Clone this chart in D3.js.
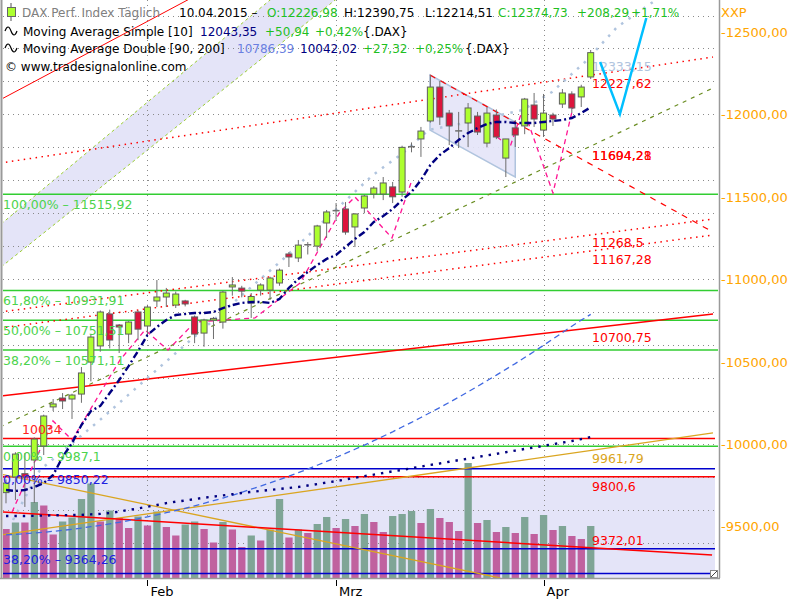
<!DOCTYPE html>
<html><head><meta charset="utf-8">
<script src="https://cdn.jsdelivr.net/npm/d3@7"></script>
<style>
body{margin:0;background:#fff}
svg{display:block}
text{font-family:"DejaVu Sans",Verdana,sans-serif}
</style>
</head><body>
<svg id="c" width="800" height="600"></svg>
<script>
// ---------------- DATA ----------------
const dates = ["12.01","13.01","14.01","15.01","16.01","19.01","20.01","21.01","22.01","23.01","26.01","27.01","28.01","29.01","30.01",
"02.02","03.02","04.02","05.02","06.02","09.02","10.02","11.02","12.02","13.02","16.02","17.02","18.02","19.02","20.02","23.02","24.02","25.02","26.02","27.02",
"02.03","03.03","04.03","05.03","06.03","09.03","10.03","11.03","12.03","13.03","16.03","17.03","18.03","19.03","20.03","23.03","24.03","25.03","26.03","27.03","30.03","31.03",
"01.04","02.04","07.04","08.04","09.04","10.04"];
const openV = [9705,9800,9820,9903,9988,10225,10279,10273,10303,10497,10595,10789,10722,10667,10801,10716,10868,10892,10843,10868,10771,10673,10752,10740,10953,10946,10855,10934,10934,10977,11153,11129,11207,11201,11341,11414,11426,11317,11432,11517,11517,11560,11529,11802,11851,11960,12166,12008,11899,11948,11990,11826,11996,11735,11918,11930,12057,11905,11996,12063,12124,12106,12226.98];
const highV = [9785,9950,9945,10040,10178,10273,10309,10305,10467,10665,10810,10815,10728,10745,10810,10845,10995,10947,10925,10875,10780,10760,10771,10930,11013,10960,10916,10975,11015,11065,11165,11238,11225,11330,11420,11462,11468,11400,11512,11565,11620,11590,11810,11830,11924,12239,12203,12027,12015,12069,12015,12045,12030,11851,11966,12100,12130,12124,12010,12154,12140,12180,12390.75];
const lowV = [9640,9660,9618,9642,9933,10200,10212,10152,10250,10380,10560,10580,10552,10612,10630,10660,10831,10831,10825,10835,10612,10590,10637,10700,10900,10890,10765,10900,10874,10960,11074,11104,11150,11170,11250,11360,11270,11195,11400,11490,11480,11462,11500,11770,11742,11950,11936,11814,11796,11802,11875,11800,11850,11620,11802,11880,11924,11863,11930,12039,12008,12045,12214.51];
const closeV = [9763,9939,9800,10030,10170,10243,10261,10297,10431,10649,10801,10631,10710,10740,10697,10831,10892,10916,10910,10850,10667,10752,10762,10922,10965,10928,10895,10965,11007,11055,11135,11207,11209,11323,11408,11416,11286,11396,11505,11553,11584,11500,11800,11804,11899,12166,11984,11930,11900,12039,11893,12008,11863,11851,11875,12093,11972,12008,11972,12130,12039,12166,12374.73];
const volumeV = [98,111,111,152,145,87,113,121,158,189,113,135,120,100,123,105,133,102,85,107,113,98,71,112,97,62,85,75,97,158,81,97,90,108,122,100,118,104,128,112,92,124,128,134,110,138,120,112,94,230,110,116,92,102,90,122,88,126,96,104,84,78,104];
const ma10 = [9721,9715,9721,9739,9763,9812,9921,10006,10115,10200,10231,10309,10388,10473,10564,10661,10710,10752,10783,10789,10795,10795,10801,10825,10843,10856,10862,10862,10856,10880,10947,11001,11044,11086,11123,11147,11195,11244,11286,11347,11383,11426,11481,11529,11602,11693,11754,11796,11845,11887,11917,11942,11954,11954,11948,11948,11948,11954,11960,11966,11978,12008,12043.35];
const ma90 = [9449,9452,9455,9460,9464,9470,9476,9482,9490,9498,9506,9515,9525,9535,9546,9558,9570,9583,9596,9610,9625,9640,9656,9672,9689,9707,9726,9744,9764,9784,9805,9826,9848,9871,9894,9918,9943,9968,9993,10020,10047,10074,10103,10131,10161,10191,10221,10252,10284,10317,10350,10384,10418,10453,10488,10525,10561,10599,10637,10676,10715,10752,10786.39];
const ma200 = [9563,9563,9563,9564,9566,9567,9568,9569,9570,9573,9576,9581,9590,9600,9609,9619,9630,9641,9650,9657,9666,9674,9681,9688,9695,9703,9709,9715,9721,9727,9733,9739,9748,9757,9766,9775,9785,9795,9805,9814,9824,9834,9843,9853,9863,9873,9882,9892,9902,9911,9921,9931,9940,9950,9960,9970,9979,9989,9999,10008,10018,10030,10042.02];

const yTickValues = [9500,10000,10500,11000,11500,12000,12500];
const gridValues = [9400,9600,9800,10000,10200,10400,10600,10800,11000,11200,11400,11600,11800,12000,12200,12400,12600];
const monthNames = ["Feb","Mrz","Apr"];
const monthFirstDates = ["02.02","02.03","01.04"];

const fibGreenValues = [11515.92,10931.91,10751.51,10571.11,9987.1];
const fibGreenLabels = ["100,00% – 11515,92","61,80% – 10931,91","50,00% – 10751,51","38,20% – 10571,11","0,00% – 9987,1"];
const fibBlueValues = [9850.22,9364.26,9214.11];
const fibBlueLabels = ["0,00% – 9850,22","38,20% – 9364,26",""];
const redLevelValues = [10034,9800.6];
const redLevelLabels = ["10034","9800,6"];

// trend lines: [barIndex, value] pairs
const channelUpper = [[-1,11312],[40,13266]];
const channelLower = [[-1,11052],[40,12927]];
const redSolidTop = [[-1,12077],[20,12717]];
const redDottedC = [[-0.64,11705],[74.97,12348]];
const redDottedA = [[-0.64,10801],[74.97,11365]];
const redDottedB = [[-0.64,10704],[74.97,11268]];
const redSolidMid = [[-0.64,10291],[74.97,10789]];
const redDashedD = [[44.96,12239],[74.97,11286]];
const oliveDashed = [[-0.64,10103],[75.19,12166]];
const orangeRise = [[-0.64,9448],[74.97,10067]];
const orangeFall = [[-0.64,9818],[52.4,9187]];
const redLow = [[-0.32,9587],[74.87,9326]];
const flagPoly = [[44.96,12239],[54,11954],[54,11620],[44.96,11905]];
const projection = [[63,12318],[65.1,12002],[67.9,12585]];
const steelCurve = [[0.74,9539],[3.6,9842],[6.8,9994],[9.97,10146],[15.6,10431],[21.4,10722],[27.1,11007],[29.3,11117],[38.9,11632],[42.1,11766],[44.8,11905],[49.2,11954],[54.8,12027],[57.9,12136],[61.4,12318],[64.8,12530],[68.6,12682]];
const pinkZig1 = [[0.64,9587],[4.98,10140],[7.0,10024],[12.09,10510],[14.74,10692],[17.18,10570],[20.04,10740],[26.4,10765],[31.18,10977],[35.42,11408],[37.0,11499],[40.93,11250],[43.05,11602]];
const pinkZig2 = [[52.07,11863],[53.45,11802],[54.83,12039],[58.0,11523],[60.13,12045]];

const rightLabels = [
  {t:"12333,15", v:12294, c:"#b0c4de"},
  {t:"12227,62", v:12192, c:"#ff0000"},
  {t:"11604,28", v:11754, c:"#ff0000"},
  {t:"11694,21", v:11754, c:"#ff0000"},
  {t:"11268,5", v:11225, c:"#ff0000"},
  {t:"11167,28", v:11125, c:"#ff0000"},
  {t:"10700,75", v:10649, c:"#ff0000"},
  {t:"9961,79", v:9915, c:"#daa520"},
  {t:"9372,01", v:9417, c:"#ff0000"}
];

// ---------------- CHART ----------------
const svg = d3.select("#c");
const L = 3, R = 718, B = 578;
const x = d3.scaleLinear().domain([-0.318, 75.5]).range([L, R]);
const y = d3.scaleLinear().domain([10000, 12500]).range([444, 32]);
const vy = d3.scaleLinear().domain([0, 250]).range([B, B - 125]);
const idx = d3.range(dates.length);
const line = d3.line().x(d => x(d[0])).y(d => y(d[1]));
const serLine = arr => d3.line().x((d, i) => x(i)).y(d => y(d))(arr);

svg.append("rect").attr("width", 800).attr("height", 600).attr("fill", "#fff");
svg.append("defs").append("clipPath").attr("id", "plot")
  .append("rect").attr("x", L).attr("y", 0).attr("width", R - L).attr("height", B);
const g = svg.append("g").attr("clip-path", "url(#plot)");

// regression channel
g.append("path").attr("d", line([channelUpper[0], channelUpper[1], channelLower[1], channelLower[0]]) + "Z")
  .attr("fill", "#e4e4f8");
[channelUpper, channelLower].forEach(p => g.append("path").attr("d", line(p))
  .attr("stroke", "#9acd32").attr("stroke-width", 1).attr("stroke-dasharray", "3,3").attr("fill", "none"));

// lower shaded zone
g.append("rect").attr("x", L).attr("y", y(9800.6)).attr("width", 715 - L).attr("height", B - y(9800.6)).attr("fill", "#e4e4f8");

// grid
gridValues.forEach(v => g.append("line").attr("x1", L).attr("x2", R).attr("y1", Math.round(y(v)) + 0.5).attr("y2", Math.round(y(v)) + 0.5)
  .attr("stroke", "#8a8a8a").attr("stroke-dasharray", "1,4"));
const monthIdx = monthFirstDates.map(d => dates.indexOf(d));
monthIdx.forEach(i => g.append("line").attr("x1", Math.round(x(i)) + 0.5).attr("x2", Math.round(x(i)) + 0.5).attr("y1", 0).attr("y2", B)
  .attr("stroke", "#8a8a8a").attr("stroke-dasharray", "1,4"));

// volume
g.selectAll(".vol").data(volumeV).join("rect")
  .attr("x", (d, i) => x(i) - 3.6).attr("width", 7.3)
  .attr("y", d => vy(d)).attr("height", d => B - vy(d))
  .attr("fill", (d, i) => (i > 0 && d > volumeV[i - 1]) ? "#7fa596" : "#c0619f");

// horizontal levels
fibGreenValues.forEach(v => g.append("line").attr("x1", L).attr("x2", R).attr("y1", y(v)).attr("y2", y(v)).attr("stroke", "#32cd32").attr("stroke-width", 1.5));
redLevelValues.forEach(v => g.append("line").attr("x1", L).attr("x2", 715).attr("y1", y(v)).attr("y2", y(v)).attr("stroke", "#ff0000").attr("stroke-width", 1.5));
fibBlueValues.forEach(v => g.append("line").attr("x1", L).attr("x2", 715).attr("y1", y(v)).attr("y2", y(v)).attr("stroke", "#0000cd").attr("stroke-width", 1.5));

// flag
g.append("path").attr("d", line(flagPoly) + "Z").attr("fill", "#e4e4f8").attr("fill-opacity", 0.9)
  .attr("stroke", "#b0c4de").attr("stroke-width", 1.5);

function seg(p, col, w, dash) {
  const s = g.append("path").attr("d", line(p)).attr("fill", "none").attr("stroke", col).attr("stroke-width", w);
  if (dash) s.attr("stroke-dasharray", dash);
  return s;
}
seg(redSolidTop, "#ff0000", 1);
seg(redDottedC, "#ff0000", 1.5, "1.5,4.5");
seg(redDottedA, "#ff0000", 1.5, "1.5,4.5");
seg(redDottedB, "#ff0000", 1.5, "1.5,4.5");
seg(redSolidMid, "#ff0000", 1.5);
seg(redDashedD, "#ff0000", 1.2, "6,6");
seg(oliveDashed, "#6b8e23", 1.2, "4,5");
seg(orangeRise, "#daa520", 1.3);
seg(orangeFall, "#daa520", 1.3);
seg(redLow, "#ff0000", 1.5);

// moving averages (long)
g.append("path").attr("d", serLine(ma90)).attr("fill", "none").attr("stroke", "#4169e1").attr("stroke-width", 1.3).attr("stroke-dasharray", "6,4");
g.append("path").attr("d", serLine(ma200)).attr("fill", "none").attr("stroke", "#000080").attr("stroke-width", 2.4).attr("stroke-dasharray", "2.4,6");
seg(steelCurve, "#b0c4de", 2.5, "2.5,6.5");
seg(pinkZig1, "#ff1493", 1.3, "5,4");
seg(pinkZig2, "#ff1493", 1.3, "5,4");

// label behind last candle
const lab = g.append("g").style("font-size", "12.5px");
lab.append("text").attr("x", 592).attr("y", y(rightLabels[0].v) + 5).attr("fill", rightLabels[0].c).text(rightLabels[0].t);

// candles
const cg = g.append("g");
idx.forEach(i => {
  const o = openV[i], c = closeV[i];
  cg.append("line").attr("x1", x(i)).attr("x2", x(i)).attr("y1", y(highV[i])).attr("y2", y(lowV[i])).attr("stroke", "#6e6e6e").attr("stroke-width", 1);
  if (Math.abs(o - c) <= 3) {
    cg.append("line").attr("x1", x(i) - 3.5).attr("x2", x(i) + 3.5).attr("y1", y(c)).attr("y2", y(c)).attr("stroke", "#6e6e6e").attr("stroke-width", 1.5);
  } else {
    cg.append("rect").attr("x", x(i) - 3).attr("width", 6)
      .attr("y", y(Math.max(o, c))).attr("height", Math.max(1, Math.abs(y(o) - y(c))))
      .attr("fill", c > o ? "#adff2f" : "#dc143c").attr("stroke", "#5f5f5f").attr("stroke-width", 1);
  }
});

// MA10
g.append("path").attr("d", serLine(ma10)).attr("fill", "none").attr("stroke", "#000080").attr("stroke-width", 2.4).attr("stroke-dasharray", "7,3,2,3");

// projection
seg(projection, "#00bfff", 2.5);

// right-side labels
rightLabels.slice(1).forEach(l => lab.append("text").attr("x", 592).attr("y", y(l.v) + 5).attr("fill", l.c).text(l.t));

// left labels
const ll = svg.append("g").style("font-size", "12.5px");
fibGreenValues.forEach((v, k) => ll.append("text").attr("x", 3).attr("y", y(v) + 15).attr("fill", "#4cd34c").text(fibGreenLabels[k]));
fibBlueValues.forEach((v, k) => ll.append("text").attr("x", 3).attr("y", y(v) + 15).attr("fill", "#2020e0").text(fibBlueLabels[k]));
ll.append("text").attr("x", 22).attr("y", y(redLevelValues[0]) - 4).attr("fill", "#ff2020").text(redLevelLabels[0]);
lab.append("text").attr("x", 592).attr("y", y(redLevelValues[1]) + 14).attr("fill", "#ff0000").text(redLevelLabels[1]);

// resize handle
svg.append("rect").attr("x", 710.5).attr("y", 570.5).attr("width", 7).attr("height", 7).attr("fill", "#fff").attr("stroke", "#888");
svg.append("line").attr("x1", 711).attr("y1", 577).attr("x2", 717).attr("y2", 571).attr("stroke", "#444");

// frame / axes
svg.append("line").attr("x1", 1.5).attr("x2", 1.5).attr("y1", 0).attr("y2", B).attr("stroke", "#9a9a9a").attr("stroke-width", 2);
svg.append("line").attr("x1", 719.5).attr("x2", 719.5).attr("y1", 0).attr("y2", B).attr("stroke", "#9a9a9a").attr("stroke-width", 1.5);
svg.append("line").attr("x1", 0).attr("x2", 720).attr("y1", B + 0.5).attr("y2", B + 0.5).attr("stroke", "#9a9a9a").attr("stroke-width", 1.5);

const fmt = d3.formatLocale({decimal: ",", thousands: "", grouping: [3], currency: ["", ""]}).format(".2f");
const ax = svg.append("g").style("font-size", "13px").attr("fill", "#ffa500");
yTickValues.forEach(v => ax.append("text").attr("x", 721).attr("y", y(v) + 5).text("-" + fmt(v)));
ax.append("text").attr("x", 721).attr("y", 17).text("XXP");

const bx = svg.append("g").style("font-size", "13px");
monthIdx.forEach((i, k) => {
  bx.append("line").attr("x1", Math.round(x(i)) + 0.5).attr("x2", Math.round(x(i)) + 0.5).attr("y1", 580).attr("y2", 586).attr("stroke", "#000");
  bx.append("text").attr("x", x(i) + 3).attr("y", 596).attr("fill", "#000").text(monthNames[k]);
});

// header
const hd = svg.append("g").style("font-size", "12px");
const green = "#1fc01f";
hd.append("line").attr("x1", 11).attr("x2", 11).attr("y1", 3).attr("y2", 21).attr("stroke", "#555");
hd.append("rect").attr("x", 7.5).attr("y", 7.5).attr("width", 8).attr("height", 9).attr("fill", "#adff2f").attr("stroke", "#666");
function row(yy, parts) {
  const t = hd.append("text").attr("y", yy);
  parts.forEach(p => t.append("tspan").attr("x", p[1]).attr("fill", p[2]).text(p[0]));
}
row(17, [["DAX Perf. Index Täglich", 22, "#808080"], ["10.04.2015 –", 179, "#000"], ["O:12226,98", 267, green], ["H:12390,75", 344, "#000"], ["L:12214,51", 425, "#000"], ["C:12374,73", 498, green], ["+208,29", 577, green], ["+1,71%", 631, green]]);
row(36, [["Moving Average Simple [10]", 23, "#000"], ["12043,35", 200, "#000080"], ["+50,94", 265, green], ["+0,42%", 315, green], ["{.DAX}", 363, "#000"]]);
row(53, [["Moving Average Double [90, 200]", 23, "#000"], ["10786,39", 237, "#6a7fe0"], ["10042,02", 300, "#000080"], ["+27,32", 363, green], ["+0,25%", 415, green], ["{.DAX}", 465, "#000"]]);
row(71, [["© www.tradesignalonline.com", 5, "#000"]]);
[31, 48].forEach(yy => hd.append("path")
  .attr("d", `M5,${yy} q3,-8 6,0 t6,0`).attr("fill", "none").attr("stroke", "#000").attr("stroke-width", 1.2));
</script>
</body></html>
